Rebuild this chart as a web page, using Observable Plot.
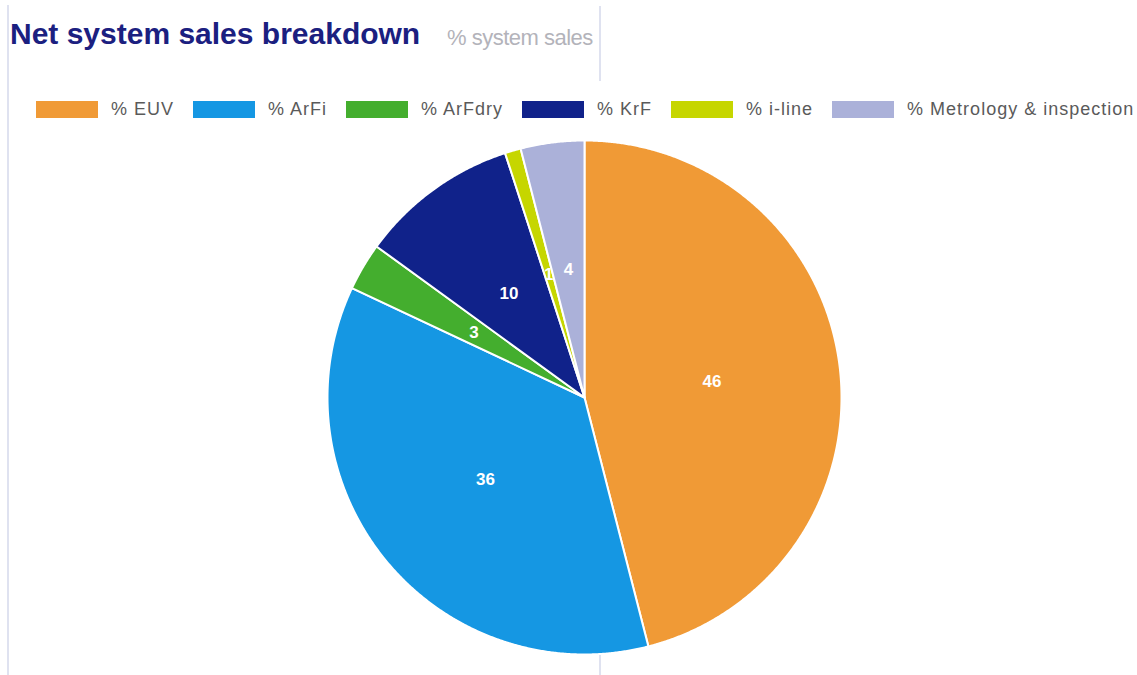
<!DOCTYPE html>
<html>
<head>
<meta charset="utf-8">
<script src="https://cdn.jsdelivr.net/npm/d3@7"></script>
<script src="https://cdn.jsdelivr.net/npm/@observablehq/plot@0.6"></script>
<style>
  html, body { margin: 0; padding: 0; background: #fff; }
  body { width: 1137px; height: 675px; position: relative; overflow: hidden; font-family: "Liberation Sans", Arial, sans-serif; }
  .vline { position: absolute; background: #dfe2f0; width: 2px; }
  #title { position: absolute; left: 10px; top: 17px; font: bold 30px "Liberation Sans", Arial, sans-serif; color: #1b2080; letter-spacing: 0px; white-space: nowrap; }
  #subtitle { position: absolute; left: 447px; top: 25px; font: 22px "Liberation Sans", Arial, sans-serif; color: #b3b3ba; letter-spacing: -0.5px; white-space: nowrap; }
  #legend { position: absolute; left: 36px; top: 93px; width: 1140px; }
  .lg-swatches { font-family: "Liberation Sans", Arial, sans-serif !important; font-size: 18px !important; color: #5a5a5a !important; letter-spacing: 1px; margin: 0 !important; flex-wrap: nowrap !important; white-space: nowrap; }
  .lg-swatch { margin-right: 19px !important; white-space: nowrap; }
  .lg-swatch > svg { margin-right: 13px !important; }
  #chart { position: absolute; left: 0; top: 125px; }
</style>
</head>
<body>
<div class="vline" style="left:7px; top:5px; height:670px;"></div>
<div class="vline" style="left:599px; top:6px; height:75px;"></div>
<div class="vline" style="left:599px; top:655px; height:20px;"></div>
<div id="title">Net system sales breakdown</div>
<div id="subtitle">% system sales</div>
<div id="legend"></div>
<div id="chart"></div>
<script>
const categories = ["% EUV", "% ArFi", "% ArFdry", "% KrF", "% i-line", "% Metrology & inspection"];
const values = [46, 36, 3, 10, 1, 4];
const colors = ["#f09a36", "#1597e3", "#44ae2e", "#10228a", "#c6d600", "#abb1d9"];

const slices = d3.pie().sort(null).value(d => d.value)(
  categories.map((name, i) => ({name, value: values[i]}))
);

// polygon outlines of each slice, in unit-circle coordinates
const outline = [];
for (const s of slices) {
  const n = Math.max(2, Math.ceil((s.endAngle - s.startAngle) / 0.005));
  outline.push({name: s.data.name, x: 0, y: 0});
  for (let k = 0; k <= n; k++) {
    const a = s.startAngle + (s.endAngle - s.startAngle) * k / n;
    outline.push({name: s.data.name, x: Math.sin(a), y: Math.cos(a)});
  }
  outline.push({name: s.data.name, x: 0, y: 0});
}
const labels = slices.map(s => {
  const a = (s.startAngle + s.endAngle) / 2;
  return {name: s.data.name, value: s.data.value, x: 0.5 * Math.sin(a), y: 0.5 * Math.cos(a)};
});

const colorScale = {type: "ordinal", domain: categories, range: colors};

const chart = Plot.plot({
  width: 1137,
  height: 545,
  marginLeft: 327,
  marginRight: 296,
  marginTop: 15,
  marginBottom: 16,
  x: {domain: [-1, 1], axis: null},
  y: {domain: [-1, 1], axis: null},
  color: colorScale,
  marks: [
    Plot.line(outline, {x: "x", y: "y", z: "name", fill: "name", stroke: "white", strokeWidth: 2, strokeLinejoin: "round", curve: "linear"}),
    Plot.text(labels, {x: "x", y: "y", text: d => String(d.value), fill: "white", fontWeight: "bold", fontSize: 17, fontFamily: "Liberation Sans, Arial, sans-serif"})
  ]
});
document.getElementById("chart").appendChild(chart);

const legend = Plot.legend({
  color: colorScale, swatchWidth: 62, swatchHeight: 17, className: "lg",
  style: {fontFamily: "Liberation Sans, Arial, sans-serif", fontSize: "18px", color: "#5a5a5a", letterSpacing: "1px", margin: "0"}
});
document.getElementById("legend").appendChild(legend);
</script>
</body>
</html>
